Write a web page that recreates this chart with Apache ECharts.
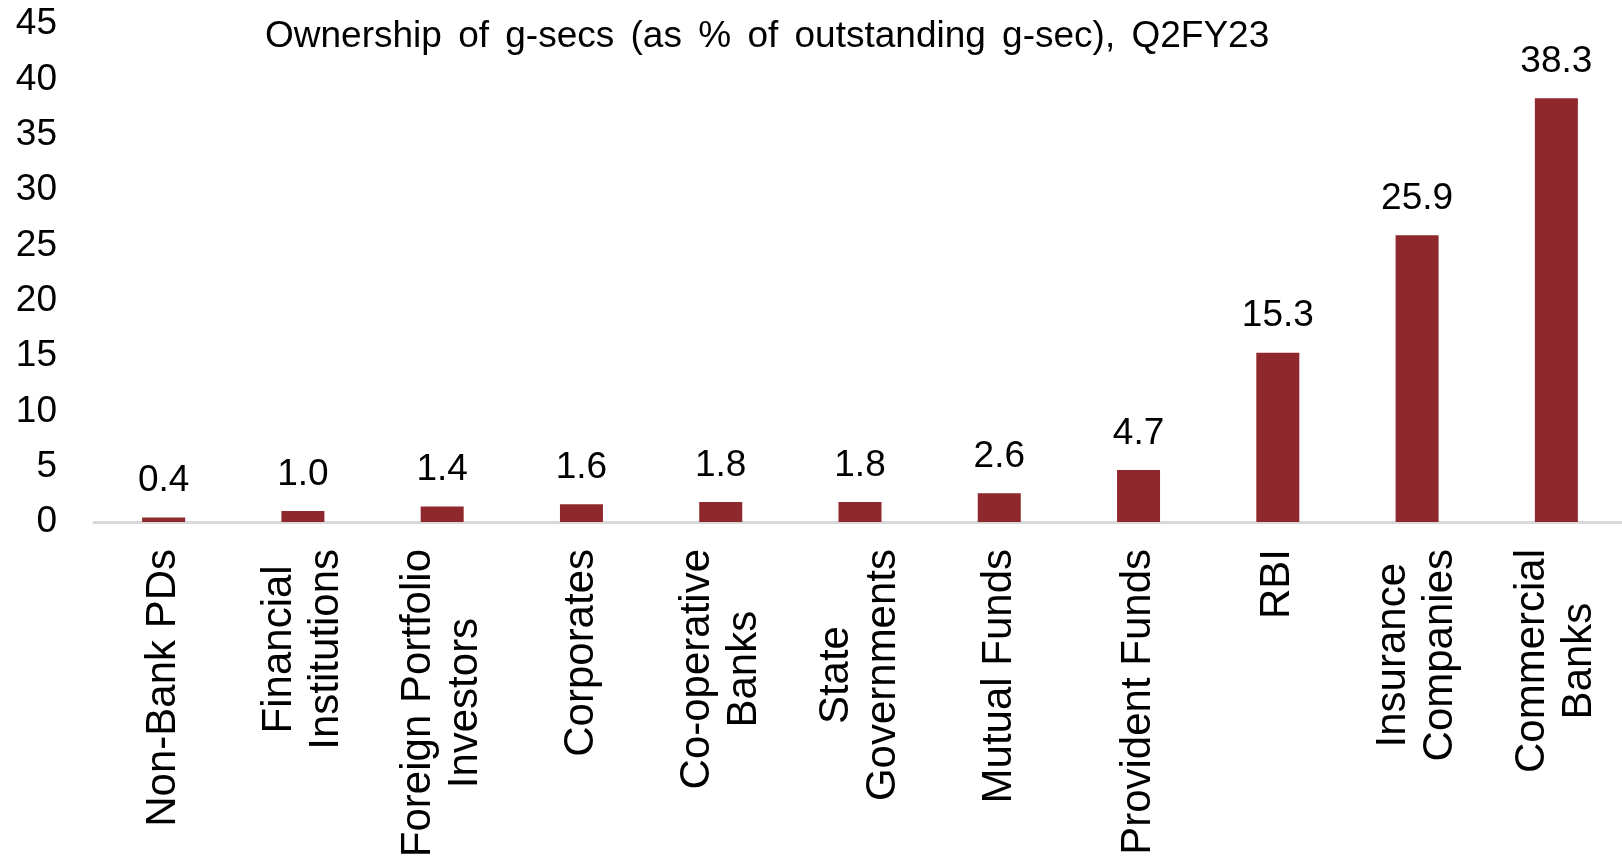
<!DOCTYPE html>
<html>
<head>
<meta charset="utf-8">
<script src="https://cdn.jsdelivr.net/npm/echarts@6/dist/echarts.min.js"></script>
<style>
html,body{margin:0;padding:0;background:#fff;}
#chart{width:1622px;height:859px;}
</style>
</head>
<body>
<div id="chart"></div>
<script>
const titleWords = ['Ownership', 'of', 'g-secs', '(as', '%', 'of', 'outstanding', 'g-sec),', 'Q2FY23'];
const categories = [
  'Non-Bank PDs',
  'Financial\nInstitutions',
  'Foreign Portfolio\nInvestors',
  'Corporates',
  'Co-operative\nBanks',
  'State\nGovernments',
  'Mutual Funds',
  'Provident Funds',
  'RBI',
  'Insurance\nCompanies',
  'Commercial\nBanks'
];
const ownership = [0.4, 1.0, 1.4, 1.6, 1.8, 1.8, 2.6, 4.7, 15.3, 25.9, 38.3];
const yTicks = { min: 0, max: 45, interval: 5 };

const FONT = "'Liberation Sans', Arial, sans-serif";
const chart = echarts.init(document.getElementById('chart'), null, { renderer: 'canvas' });
chart.setOption({
  animation: false,
  backgroundColor: '#ffffff',
  title: {
    text: titleWords.map(function (w) { return '{w|' + w + '}'; }).join(' '),
    left: 257,
    top: 13,
    textStyle: {
      fontFamily: FONT, fontSize: 37, fontWeight: 'normal', color: '#000',
      rich: { w: { fontFamily: FONT, fontSize: 37, color: '#000', padding: [0, 3, 0, 3] } }
    }
  },
  grid: { left: 94, right: -4, top: 24, bottom: 337, containLabel: false, outerBoundsMode: 'none' },
  xAxis: {
    type: 'category',
    data: categories,
    boundaryGap: true,
    axisLine: { show: true, lineStyle: { color: '#D9D9D9', width: 3 } },
    axisTick: { show: false },
    axisLabel: {
      interval: 0,
      rotate: 90,
      margin: 27,
      color: '#000',
      fontFamily: FONT,
      fontSize: 42,
      lineHeight: 47,
      formatter: function (v) {
        return v.split('\n').map(function (s) { return '{c|' + s + '}'; }).join('\n');
      },
      rich: { c: { align: 'center', fontFamily: FONT, fontSize: 42, lineHeight: 47, color: '#000' } }
    }
  },
  yAxis: {
    type: 'value',
    min: yTicks.min,
    max: yTicks.max,
    interval: yTicks.interval,
    axisLine: { show: false },
    axisTick: { show: false },
    splitLine: { show: false },
    axisLabel: { margin: 37, color: '#000', fontFamily: FONT, fontSize: 37 }
  },
  series: [{
    type: 'bar',
    data: ownership,
    barWidth: 43,
    itemStyle: { color: '#8E282D' },
    label: {
      show: true,
      position: 'top',
      distance: 18,
      color: '#000',
      fontFamily: FONT,
      fontSize: 37,
      formatter: function (p) { return p.value.toFixed(1); }
    }
  }]
});
</script>
</body>
</html>
